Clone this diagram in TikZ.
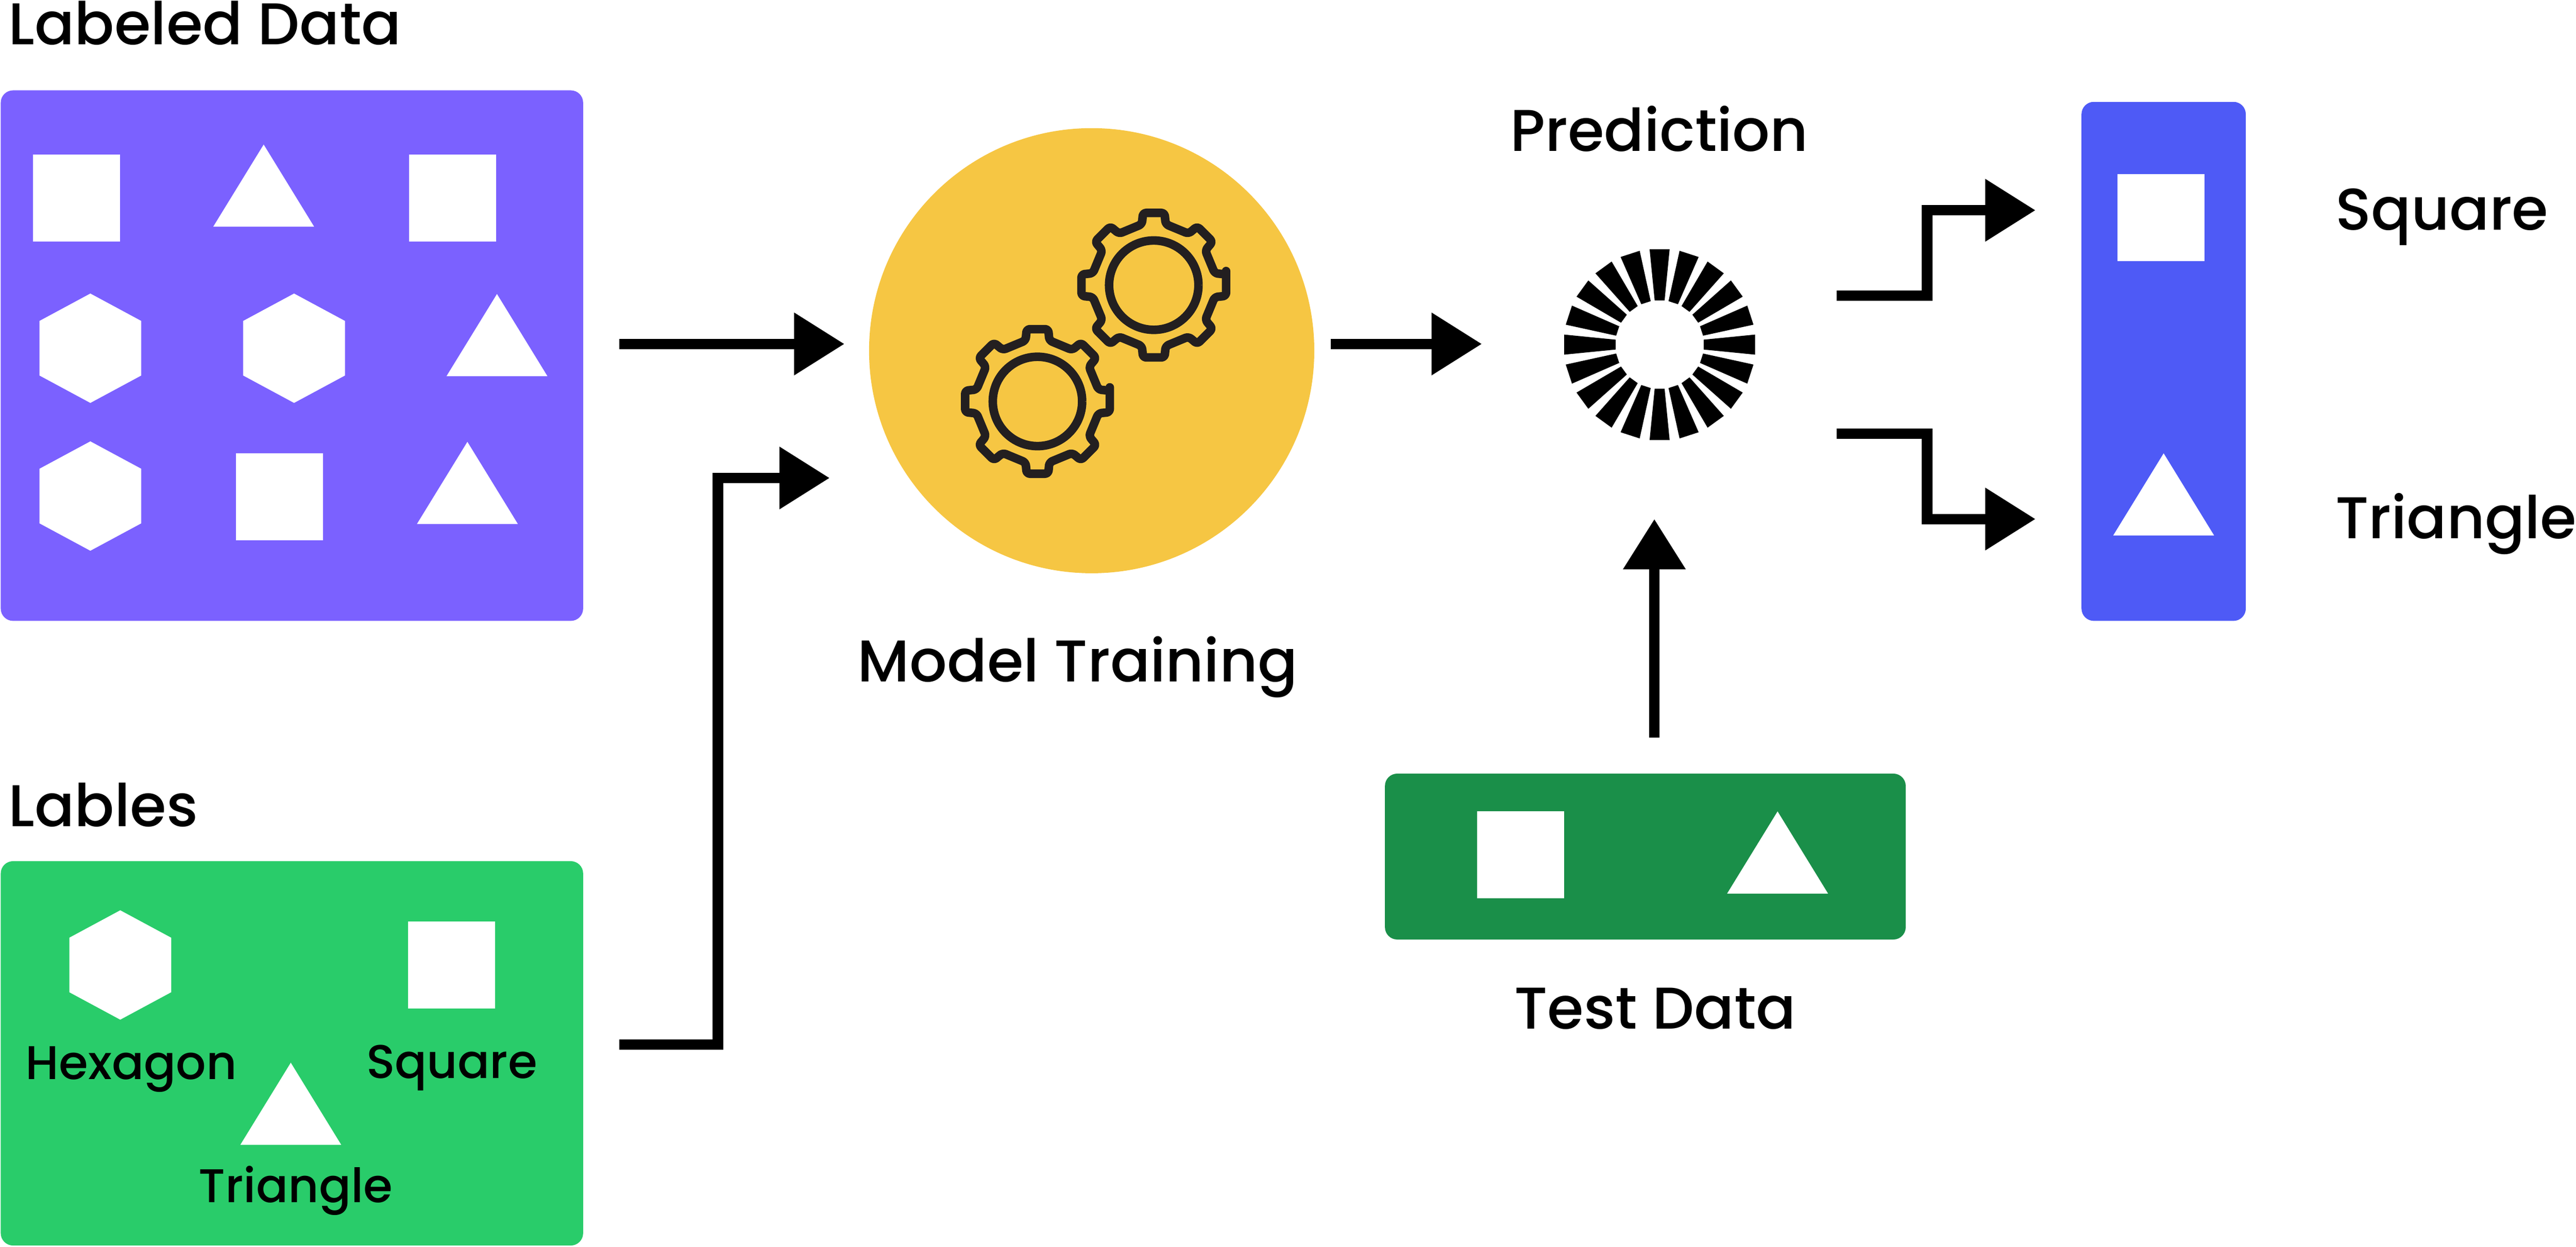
\documentclass[tikz,border=0pt]{standalone}
\usepackage{fontspec}
\setmainfont{Poppins Medium}
\usepackage{xcolor}
\usetikzlibrary{arrows.meta}
\definecolor{purplebox}{HTML}{7B61FF}
\definecolor{greenbox}{HTML}{29CC6A}
\definecolor{testbox}{HTML}{1A8F49}
\definecolor{bluebox}{HTML}{4E5AF6}
\definecolor{gold}{HTML}{F6C643}
\definecolor{gearline}{HTML}{231F20}
\tikzset{
  panel/.style={rectangle, rounded corners=0.75mm, inner sep=0pt},
  flow/.style={-{Triangle[length=3.06mm,width=3.65mm]}, line width=0.63mm, draw=black},
  title/.style={font=\fontsize{10.2pt}{12pt}\selectfont, inner sep=0pt},
  small/.style={font=\fontsize{8.2pt}{10pt}\selectfont, inner sep=0pt},
  gearstroke/.style={draw=gearline, line width=0.52mm, line join=round}
}
\newcommand{\DrawSquare}[2]{% centre x,y
  \fill[white] (#1-26.5,#2-26.5) rectangle (#1+26.5,#2+26.5);
}
\newcommand{\DrawHex}[2]{% centre x,y
  \fill[white] (#1,#2-33.3) -- (#1+31,#2-16.6) -- (#1+31,#2+16.6)
    -- (#1,#2+33.3) -- (#1-31,#2+16.6) -- (#1-31,#2-16.6) -- cycle;
}
\newcommand{\DrawTri}[2]{% apex x,y
  \fill[white] (#1,#2) -- (#1+30.7,#2+50) -- (#1-30.7,#2+50) -- cycle;
}
\newcommand{\DrawGear}[2]{% centre x,y
  \begin{scope}[shift={(#1,#2)}]
    \draw[gearstroke] (27.2,0) arc[start angle=0, end angle=360, radius=27.2];
    \draw[gearstroke, rounded corners=0.2mm] (-8.5:44.5)
      \foreach \a in {0,45,...,315}{
        -- (\a-8.5:44.5) -- (\a+8.5:44.5) -- (\a+11:37.8) -- (\a+34:37.8)
      } -- cycle;
  \end{scope}
}
\begin{document}
\begin{tikzpicture}[x=0.1mm,y=-0.1mm]
  \useasboundingbox (0,0) rectangle (1568,759.05);
  % panels
  \node[panel, fill=purplebox, minimum width=35.45mm, minimum height=32.3mm] (data) at (177.7,216.5) {};
  \node[panel, fill=greenbox, minimum width=35.45mm, minimum height=23.4mm] (labels) at (177.7,641.3) {};
  \node[panel, fill=testbox, minimum width=31.7mm, minimum height=10.1mm] (test) at (1001.5,521.5) {};
  \node[panel, fill=bluebox, minimum width=10mm, minimum height=31.6mm] (result) at (1317,220) {};
  \node[circle, fill=gold, inner sep=0pt, minimum size=27.1mm] (model) at (664.5,213.5) {};
  % labeled data shapes
  \DrawSquare{46.5}{120.5}
  \DrawTri{160.5}{88}
  \DrawSquare{275.5}{120.5}
  \DrawHex{55}{212}
  \DrawHex{179}{212}
  \DrawTri{302.5}{179}
  \DrawHex{55}{302}
  \DrawSquare{170}{302.5}
  \DrawTri{284.5}{269}
  % labels shapes
  \DrawHex{73.2}{587.5}
  \DrawSquare{275}{587.5}
  \DrawTri{177}{647}
  % test and result shapes
  \DrawSquare{925.5}{520.5}
  \DrawTri{1082}{494}
  \DrawSquare{1315.5}{132.5}
  \DrawTri{1317}{276}
  % gears
  \DrawGear{702.3}{173.6}
  \DrawGear{631.5}{244.4}
  % spinner
  \begin{scope}[shift={(1010.2,209.8)}]
    \foreach \a in {0,18,...,342}{
      \fill[black] (\a-6.4:27) -- (\a+6.4:27) -- (\a+6:58.4) -- (\a-6:58.4) -- cycle;
    }
  \end{scope}
  % texts
  \node[title, anchor=west] (datatitle) at (4.5,14) {Labeled Data};
  \node[title, anchor=west] (labelstitle) at (4.5,490) {Lables};
  \node[title] (modeltitle) at (656,406) {Model Training};
  \node[title] (predtitle) at (1010,78.5) {Prediction};
  \node[title] (testtitle) at (1007.5,614) {Test Data};
  \node[title] (squaretitle) at (1486.5,132) {Square};
  \node[title] (triangletitle) at (1495,319) {Triangle};
  \node[small] (hexname) at (80,651) {Hexagon};
  \node[small] (squarename) at (275,650) {Square};
  \node[small] (trianglename) at (180,725) {Triangle};
  % connectors
  \coordinate (dataout) at (377,209.4);
  \coordinate (modelina) at (514,209.4);
  \coordinate (labelsout) at (377,636);
  \coordinate (bendla) at (437,636);
  \coordinate (bendlb) at (437,291);
  \coordinate (modelinb) at (505,291);
  \coordinate (modelout) at (810,209.4);
  \coordinate (predin) at (902,209.4);
  \coordinate (testout) at (1007,449);
  \coordinate (predbelow) at (1007,316);
  \coordinate (predouta) at (1118,180);
  \coordinate (bendaa) at (1173,180);
  \coordinate (bendab) at (1173,128);
  \coordinate (resultina) at (1239,128);
  \coordinate (predoutb) at (1118,264);
  \coordinate (bendba) at (1173,264);
  \coordinate (bendbb) at (1173,316);
  \coordinate (resultinb) at (1239,316);
  \draw[flow] (dataout) -- (modelina);
  \draw[flow] (labelsout) -- (bendla) -- (bendlb) -- (modelinb);
  \draw[flow] (modelout) -- (predin);
  \draw[flow] (testout) -- (predbelow);
  \draw[flow] (predouta) -- (bendaa) -- (bendab) -- (resultina);
  \draw[flow] (predoutb) -- (bendba) -- (bendbb) -- (resultinb);
\end{tikzpicture}
\end{document}
